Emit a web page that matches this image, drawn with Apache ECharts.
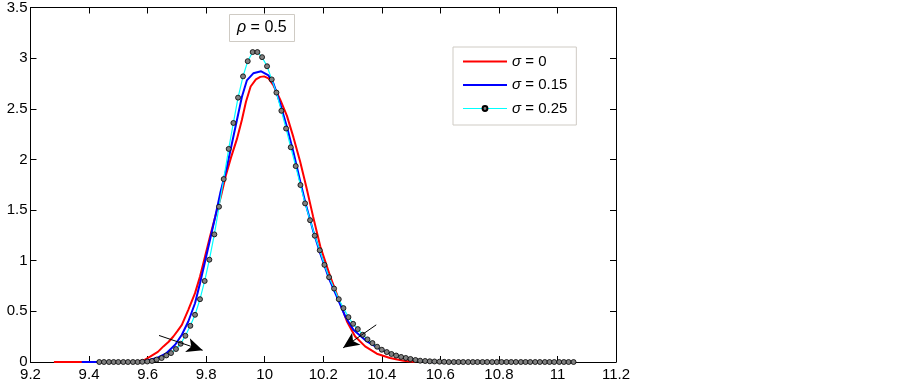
<!DOCTYPE html>
<html><head><meta charset="utf-8">
<script src="https://cdn.jsdelivr.net/npm/echarts@6/dist/echarts.min.js"></script>
<style>html,body{margin:0;padding:0;background:#fff}#c{width:903px;height:386px}</style>
</head><body><div id="c"></div>
<script>
// ---- data ----
const seriesNames = ['σ = 0', 'σ = 0.15', 'σ = 0.25'];
const annotationText = 'ρ = 0.5';

// sigma = 0 (red), [x, density]
const sigma0 = [[9.28,0],[9.40,0],[9.50,0],[9.56,0],[9.59,0.02],[9.61,0.055],[9.635,0.10],[9.654,0.154],
  [9.672,0.20],[9.688,0.252],[9.703,0.31],[9.717,0.367],[9.739,0.515],[9.762,0.68],[9.779,0.843],[9.796,1.04],
  [9.813,1.237],[9.831,1.434],[9.85,1.63],[9.868,1.85],[9.885,2.02],[9.905,2.20],[9.922,2.39],[9.936,2.57],
  [9.952,2.72],[9.97,2.79],[9.985,2.815],[9.998,2.82],[10.013,2.80],[10.03,2.73],[10.053,2.59],[10.076,2.43],
  [10.098,2.22],[10.121,1.98],[10.142,1.73],[10.165,1.44],[10.19,1.14],[10.224,0.843],[10.258,0.58],
  [10.281,0.40],[10.309,0.252],[10.343,0.154],[10.383,0.082],[10.428,0.039],[10.474,0.013],[10.514,0]];

// sigma = 0.15 (blue), [x, density]
const sigma015 = [[9.375,0],[9.50,0],[9.563,0],[9.60,0.015],[9.631,0.039],[9.665,0.088],[9.694,0.17],
  [9.717,0.269],[9.739,0.40],[9.762,0.58],[9.779,0.778],[9.796,0.99],[9.813,1.205],[9.831,1.434],[9.848,1.665],
  [9.871,1.927],[9.888,2.157],[9.905,2.387],[9.922,2.617],[9.939,2.78],[9.961,2.85],[9.988,2.87],[10.013,2.83],
  [10.03,2.75],[10.053,2.55],[10.076,2.32],[10.10,2.05],[10.12,1.80],[10.14,1.56],[10.165,1.30],[10.19,1.07],
  [10.22,0.82],[10.25,0.62],[10.275,0.45],[10.303,0.318],[10.349,0.203],[10.394,0.128],[10.44,0.072],
  [10.486,0.033],[10.531,0.013],[10.58,0]];

// sigma = 0.25 (cyan line with markers)
const sigma025X = [9.435,9.451,9.468,9.484,9.500,9.517,9.533,9.550,9.566,9.582,
  9.599,9.615,9.631,9.648,9.664,9.680,9.697,9.713,9.729,9.746,
  9.762,9.779,9.795,9.811,9.828,9.844,9.860,9.877,9.893,9.909,
  9.926,9.942,9.959,9.975,9.991,10.008,10.024,10.040,10.057,10.073,
  10.089,10.106,10.122,10.138,10.155,10.171,10.188,10.204,10.220,10.237,
  10.253,10.269,10.286,10.302,10.318,10.335,10.351,10.368,10.384,10.400,
  10.417,10.433,10.449,10.466,10.482,10.498,10.515,10.531,10.548,10.564,
  10.580,10.597,10.613,10.629,10.646,10.662,10.678,10.695,10.711,10.727,
  10.744,10.760,10.777,10.793,10.809,10.826,10.842,10.858,10.875,10.891,
  10.907,10.924,10.940,10.957,10.973,10.989,11.006,11.022,11.038,11.055];
const sigma025Y = [0,0,0,0,0,0,0,0,0,0.002,
  0.005,0.01,0.024,0.039,0.065,0.088,0.128,0.18,0.259,0.357,
  0.466,0.62,0.80,1.01,1.26,1.533,1.806,2.104,2.36,2.61,
  2.82,2.97,3.06,3.06,3.01,2.92,2.79,2.66,2.48,2.305,
  2.12,1.934,1.747,1.566,1.40,1.247,1.103,0.959,0.837,0.725,
  0.62,0.532,0.443,0.377,0.325,0.269,0.223,0.187,0.151,0.121,
  0.098,0.079,0.064,0.05,0.04,0.03,0.02,0.013,0.01,0.007,
  0.005,0.003,0.002,0,0,0,0,0,0,0,
  0,0,0,0,0,0,0,0,0,0,
  0,0,0,0,0,0,0,0,0,0];

// annotation arrows: [from, to]
const arrows = [[[9.639,0.262],[9.788,0.116]], [[10.381,0.367],[10.268,0.14]]];

// ---- chart ----
const FONT = 'Liberation Sans';
const fmt = v => String(Math.round(v * 10) / 10);
const chart = echarts.init(document.getElementById('c'), null, {renderer: 'canvas'});
const axisCommon = {
  axisLine: {onZero: false, lineStyle: {color: '#000', width: 1}},
  axisTick: {inside: true, length: 6, lineStyle: {color: '#000', width: 1}},
  splitLine: {show: false}
};
const rich = {i: {fontStyle: 'italic', fontFamily: FONT, fontSize: 15, color: '#000'}};
const richT = {i: {fontStyle: 'italic', fontFamily: FONT, fontSize: 16, color: '#000'}};
chart.setOption({
  animation: false,
  backgroundColor: '#fff',
  grid: {left: 30.5, right: 287, top: 7, bottom: 24, containLabel: false},
  title: {
    text: '{i|ρ} = 0.5', left: 229, top: 14,
    padding: [6, 8, 6, 8], borderColor: '#cfcbc4', borderWidth: 1, backgroundColor: '#fff',
    textStyle: {fontSize: 16, fontWeight: 'normal', color: '#000', fontFamily: FONT, rich: richT}
  },
  legend: {
    orient: 'vertical', left: 453, top: 47,
    itemWidth: 44, itemHeight: 6, itemGap: 8.5,
    padding: [7, 9, 9, 9], borderColor: '#cfcbc4', borderWidth: 1, backgroundColor: '#fff',
    textStyle: {fontSize: 15, color: '#000', fontFamily: FONT, rich: rich},
    formatter: n => '{i|σ} = ' + n.split('= ')[1],
    data: [
      {name: seriesNames[0], itemStyle: {opacity: 0}},
      {name: seriesNames[1], itemStyle: {opacity: 0}},
      {name: seriesNames[2], lineStyle: {width: 1}}
    ]
  },
  xAxis: [
    Object.assign({type: 'value', min: 9.2, max: 11.2, interval: 0.2, position: 'bottom',
      axisLabel: {color: '#000', fontSize: 15, fontFamily: FONT, margin: 5, formatter: fmt,
        showMinLabel: true, showMaxLabel: true}}, axisCommon),
    Object.assign({type: 'value', min: 9.2, max: 11.2, interval: 0.2, position: 'top',
      axisLabel: {show: false}}, axisCommon)
  ],
  yAxis: [
    Object.assign({type: 'value', min: 0, max: 3.5, interval: 0.5, position: 'left',
      axisLabel: {color: '#000', fontSize: 15, fontFamily: FONT, margin: 3, formatter: fmt,
        showMinLabel: true, showMaxLabel: true}}, axisCommon),
    Object.assign({type: 'value', min: 0, max: 3.5, interval: 0.5, position: 'right',
      axisLabel: {show: false}}, axisCommon)
  ],
  series: [
    {name: seriesNames[0], type: 'line', data: sigma0, symbol: 'none', showSymbol: false,
      lineStyle: {color: '#ff0000', width: 2}, itemStyle: {color: '#ff0000'}, z: 2,
      markLine: {
        silent: true, symbol: ['none', 'arrow'], symbolSize: [11, 16],
        lineStyle: {color: '#000', width: 1, type: 'solid'}, label: {show: false},
        itemStyle: {color: '#000'}, emphasis: {disabled: true},
        data: arrows.map(a => [{coord: a[0]}, {coord: a[1]}])
      }},
    {name: seriesNames[1], type: 'line', data: sigma015, symbol: 'none', showSymbol: false,
      lineStyle: {color: '#0000ff', width: 2}, itemStyle: {color: '#0000ff'}, z: 3},
    {name: seriesNames[2], type: 'line', data: sigma025X.map((x, i) => [x, sigma025Y[i]]),
      symbol: 'circle', symbolSize: 5, showSymbol: true, showAllSymbol: true,
      lineStyle: {color: '#00ffff', width: 1.2},
      itemStyle: {color: '#808080', borderColor: '#000', borderWidth: 0.8}, z: 4}
  ]
});
</script></body></html>
